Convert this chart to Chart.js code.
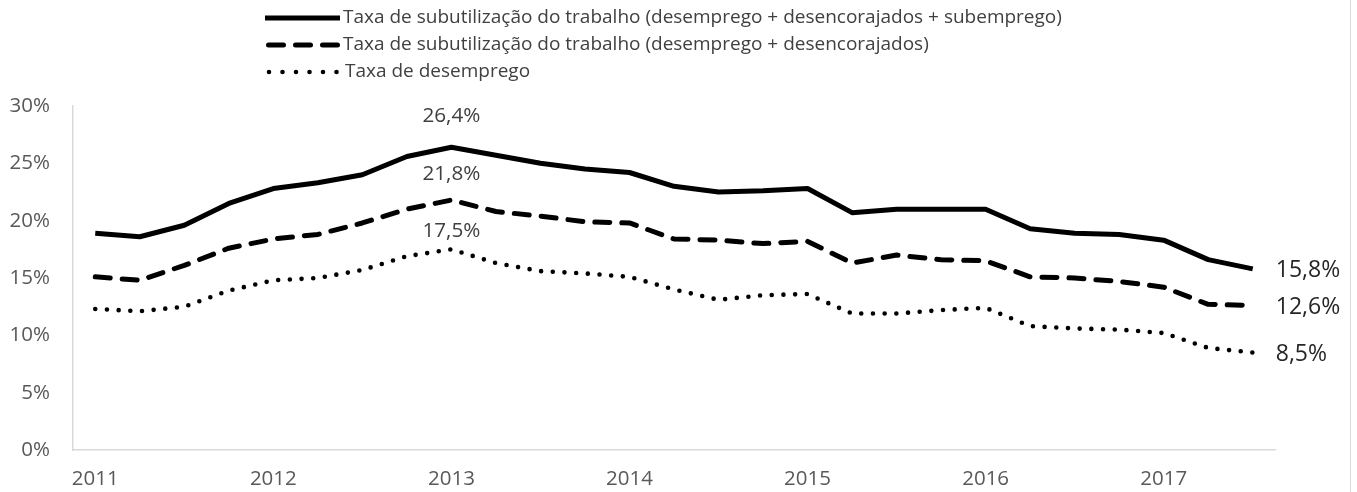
<!DOCTYPE html>
<html>
<head>
<meta charset="utf-8">
<script src="https://cdn.jsdelivr.net/npm/chart.js@4.4.1/dist/chart.umd.min.js"></script>
<style>
  html, body { margin: 0; padding: 0; background: #ffffff; }
  #wrap { position: relative; width: 1357px; height: 492px; }
</style>
</head>
<body>
<div id="wrap"><canvas id="c"></canvas></div>
<script>
// ---- data ----
const categories = ['2011','','','','2012','','','','2013','','','','2014','','','','2015','','','','2016','','','','2017','',''];
const seriesNames = [
  'Taxa de subutilização do trabalho (desemprego + desencorajados + subemprego)',
  'Taxa de subutilização do trabalho (desemprego + desencorajados)',
  'Taxa de desemprego'
];
const subutilizacaoTotal = [18.9, 18.6, 19.6, 21.5, 22.8, 23.3, 24.0, 25.6, 26.4, 25.7, 25.0, 24.5, 24.2, 23.0, 22.5, 22.6, 22.8, 20.7, 21.0, 21.0, 21.0, 19.3, 18.9, 18.8, 18.3, 16.6, 15.8];
const subutilizacaoDesenc = [15.1, 14.8, 16.1, 17.6, 18.4, 18.8, 19.8, 21.0, 21.8, 20.8, 20.4, 19.9, 19.8, 18.4, 18.3, 18.0, 18.2, 16.3, 17.0, 16.6, 16.5, 15.1, 15.0, 14.7, 14.2, 12.7, 12.6];
const desemprego = [12.3, 12.1, 12.5, 13.9, 14.8, 15.0, 15.7, 16.9, 17.5, 16.3, 15.6, 15.4, 15.1, 14.0, 13.1, 13.5, 13.6, 11.9, 11.9, 12.2, 12.4, 10.8, 10.6, 10.5, 10.2, 8.9, 8.5];
const yTicks = [0, 5, 10, 15, 20, 25, 30];
const labeledPoints = [8, 26];

// ---- styles ----
const FONT = '"Open Sans", "Noto Sans", sans-serif';
const lineStyles = [
  { width: 5, dash: [], cap: 'butt' },
  { width: 5, dash: [15, 12], cap: 'round' },
  { width: 4.6, dash: [0, 11.7], cap: 'round' }
];
const peakLabelOffsets = [31, 26, 18];

const fmt = v => v.toFixed(1).replace('.', ',') + '%';

const overlay = {
  id: 'overlay',
  afterDatasetsDraw(chart) {
    const ctx = chart.ctx;
    ctx.save();
    ctx.fillStyle = '#404040';
    ctx.textBaseline = 'middle';
    chart.data.datasets.forEach((ds, di) => {
      const meta = chart.getDatasetMeta(di);
      const pk = labeledPoints[0], ls = labeledPoints[1];
      const p = meta.data[pk];
      ctx.font = '20.7px ' + FONT;
      ctx.textAlign = 'center';
      ctx.fillText(fmt(ds.data[pk]), p.x, p.y - peakLabelOffsets[di]);
      const q = meta.data[ls];
      ctx.font = '23px ' + FONT;
      ctx.fillStyle = '#262626';
      ctx.textAlign = 'left';
      ctx.fillText(fmt(ds.data[ls]), q.x + 23, q.y + 1.5);
      ctx.fillStyle = '#404040';
    });
    // legend
    const rows = [18, 45, 72];
    chart.data.datasets.forEach((ds, di) => {
      const y = rows[di];
      const st = lineStyles[di];
      ctx.strokeStyle = '#000000';
      ctx.lineWidth = st.width;
      ctx.lineCap = st.cap;
      ctx.beginPath();
      if (di === 0) { ctx.setLineDash([]); ctx.moveTo(265, y); ctx.lineTo(340, y); }
      else if (di === 1) { ctx.setLineDash([15, 12]); ctx.moveTo(268.5, y); ctx.lineTo(338, y); }
      else { ctx.setLineDash([0, 13.5]); ctx.moveTo(269, y); ctx.lineTo(338, y); }
      ctx.stroke();
      ctx.setLineDash([]);
      ctx.font = '19px ' + FONT;
      ctx.fillStyle = '#404040';
      ctx.textAlign = 'left';
      ctx.textBaseline = 'middle';
      ctx.fillText(ds.label, di === 2 ? 345 : 343, y);
    });
    // right border
    ctx.strokeStyle = '#d9d9d9';
    ctx.lineWidth = 1;
    ctx.beginPath();
    ctx.moveTo(1350.5, 0);
    ctx.lineTo(1350.5, 492);
    ctx.stroke();
    ctx.restore();
  }
};

const datasets = [subutilizacaoTotal, subutilizacaoDesenc, desemprego].map((d, i) => ({
  label: seriesNames[i],
  data: d,
  borderColor: '#000000',
  backgroundColor: '#000000',
  borderWidth: lineStyles[i].width,
  borderDash: lineStyles[i].dash,
  borderCapStyle: lineStyles[i].cap,
  borderJoinStyle: 'round',
  pointRadius: 0,
  pointHoverRadius: 0,
  tension: 0,
  fill: false
}));

new Chart(document.getElementById('c'), {
  type: 'line',
  data: { labels: categories, datasets },
  options: {
    responsive: true,
    maintainAspectRatio: false,
    animation: false,
    layout: { padding: { left: 0, right: 82, top: 106, bottom: 0 } },
    plugins: { legend: { display: false }, tooltip: { enabled: false } },
    scales: {
      x: {
        type: 'category',
        offset: true,
        grid: { display: false, drawTicks: false },
        border: { display: true, color: '#d9d9d9', width: 1.5 },
        ticks: {
          autoSkip: false, maxRotation: 0, minRotation: 0,
          color: '#595959', font: { family: FONT, size: 20.5 }, padding: 17
        },
        afterFit(s) { s.height = 42; }
      },
      y: {
        min: 0, max: 30,
        grid: { display: false, drawTicks: false },
        border: { display: true, color: '#d9d9d9', width: 1.5 },
        afterBuildTicks(s) { s.ticks = yTicks.map(v => ({ value: v })); },
        ticks: {
          color: '#595959', font: { family: FONT, size: 20.5 }, padding: 23,
          callback: v => v + '%'
        },
        afterFit(s) { s.width = 73; }
      }
    }
  },
  plugins: [overlay]
});
</script>
</body>
</html>
